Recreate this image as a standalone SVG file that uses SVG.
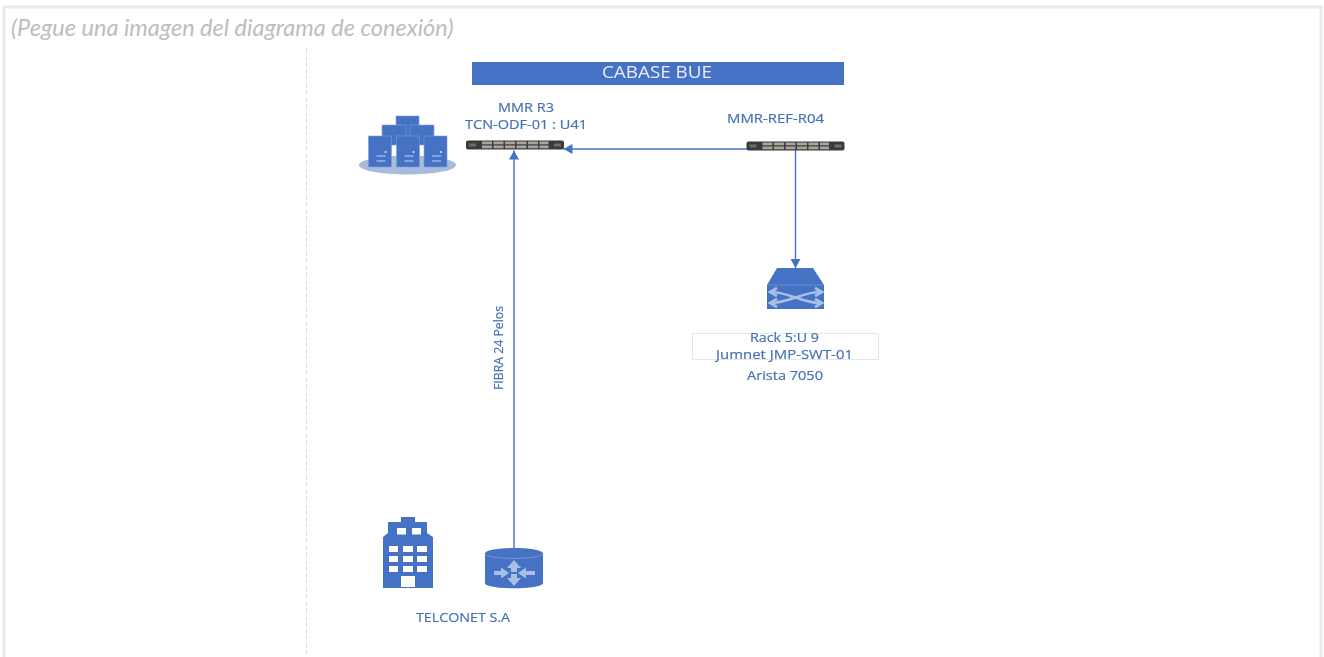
<svg xmlns="http://www.w3.org/2000/svg" width="1324" height="657" viewBox="0 0 1324 657">
<style>
.lbl{font-family:"Open Sans","Liberation Sans",sans-serif;font-size:13px;fill:#4472b4;stroke:#4472b4;stroke-width:.2;text-anchor:middle}
.blue{fill:#4472c4}
.pale{fill:#a9bfe3}
.conn{fill:none;stroke:#4472c4;stroke-width:1.4}
.panel{fill:#3a3a3a}
.port{fill:#a8a69c}
.srv{fill:#4472c4;stroke:#7f9fd6;stroke-width:.6}
.mark{stroke:#c5d3ee;stroke-width:1.2;fill:none}
.win{fill:#fff}
.arrow{fill:none;stroke:#a9bfe3;stroke-width:2.6}
.soft{filter:url(#soft)}
</style>
<defs>
<filter id="soft" x="-5%" y="-5%" width="110%" height="110%"><feGaussianBlur stdDeviation="0.4"/></filter>
<marker id="ah" markerUnits="userSpaceOnUse" markerWidth="11" markerHeight="11" refX="9" refY="5" orient="auto"><path d="M0 0L9 5L0 10Z" fill="#4472c4"/></marker>
<g id="ports">
<rect x="16" y="1" width="10" height="2.800" class="port"/><rect x="16" y="5" width="10" height="2.800" class="port"/>
<rect x="27.500" y="1" width="10" height="2.800" class="port"/><rect x="27.500" y="5" width="10" height="2.800" class="port"/>
<rect x="39" y="1" width="10" height="2.800" class="port"/><rect x="39" y="5" width="10" height="2.800" class="port"/>
<rect x="50.500" y="1" width="10" height="2.800" class="port"/><rect x="50.500" y="5" width="10" height="2.800" class="port"/>
<rect x="62" y="1" width="10" height="2.800" class="port"/><rect x="62" y="5" width="10" height="2.800" class="port"/>
<rect x="73.500" y="1" width="9" height="2.800" class="port"/><rect x="73.500" y="5" width="9" height="2.800" class="port"/>
<rect x="3" y="3" width="7" height="3" fill="#6d6d6d"/><rect x="88" y="3" width="7" height="3" fill="#6d6d6d"/>
</g>
<g id="srvfront"><rect width="23" height="31" class="srv"/><path d="M8 20h9M8 25h9" class="mark"/><circle cx="17" cy="16" r="1" fill="#dfe7f6"/></g>
</defs>
<rect width="1324" height="657" fill="#fff"/>
<path d="M4 657V7H1321V657" fill="none" stroke="#e9e9e9" stroke-width="3"/>
<path d="M306.500 48V657" fill="none" stroke="#e0e0e0" stroke-width="1" stroke-dasharray="5 2"/>
<text x="11" y="36" font-family="Lato,'Liberation Sans',sans-serif" font-style="italic" font-size="23.500" fill="#bdbdbd">(Pegue una imagen del diagrama de conexión)</text>

<g id="connectors" class="soft">
<path class="conn" d="M514 548V150.500" marker-end="url(#ah)"/>
<path class="conn" d="M750 149H563.500" marker-end="url(#ah)"/>
<path class="conn" d="M795.500 149V268" marker-end="url(#ah)"/>
</g>

<g id="cabase-bue" class="soft">
<rect x="472" y="62" width="372" height="23" class="blue"/>
<text x="657" y="77.500" font-family="'Open Sans','Liberation Sans',sans-serif" font-size="16" fill="#e8eefa" text-anchor="middle" textLength="110" lengthAdjust="spacingAndGlyphs">CABASE BUE</text>
</g>

<g id="servers" class="soft">
<ellipse cx="407.500" cy="165" rx="48.500" ry="9.500" fill="#a9bbdc"/>
<rect x="396" y="116" width="23" height="20" class="srv"/>
<rect x="382" y="125" width="24" height="20" class="srv"/>
<rect x="410" y="125" width="24" height="20" class="srv"/>
<use href="#srvfront" x="368.500" y="136"/>
<use href="#srvfront" x="396.500" y="136"/>
<use href="#srvfront" x="424" y="136"/>
</g>

<g id="mmr-r3" class="soft">
<text class="lbl" x="526" y="112" textLength="56" lengthAdjust="spacingAndGlyphs">MMR R3</text>
<text class="lbl" x="526" y="129" textLength="122" lengthAdjust="spacingAndGlyphs">TCN-ODF-01 : U41</text>
<rect x="466" y="140.500" width="98" height="9" rx="2" class="panel"/>
<use href="#ports" x="466" y="140.500"/>
</g>

<g id="mmr-ref-r04" class="soft">
<text class="lbl" x="775.500" y="123" textLength="97" lengthAdjust="spacingAndGlyphs">MMR-REF-R04</text>
<rect x="746.500" y="141.500" width="98" height="9" rx="2" class="panel"/>
<use href="#ports" x="746.500" y="141.500"/>
</g>

<g id="switch" class="soft">
<path d="M777 268H813L824 285V309H767V285Z" class="blue"/>
<path d="M767 285H824" stroke="#7f9fd6" stroke-width=".6"/>
<path d="M771 292C788 292 803 303 820 303M771 303C788 303 803 292 820 292" class="arrow"/>
<path d="M777 288L770 292L777 296M777 299L770 303L777 307M815 288L822 292L815 296M815 299L822 303L815 307" class="arrow"/>
<rect x="692.500" y="333.500" width="186" height="26" fill="none" stroke="#e6e6e6"/>
<text class="lbl" x="784.500" y="342" textLength="69" lengthAdjust="spacingAndGlyphs">Rack 5:U 9</text>
<text class="lbl" x="784.500" y="359" textLength="137" lengthAdjust="spacingAndGlyphs">Jumnet JMP-SWT-01</text>
<text class="lbl" x="785" y="380" textLength="76" lengthAdjust="spacingAndGlyphs">Arista 7050</text>
</g>

<g id="fibra-label" class="soft">
<text class="lbl" transform="translate(503 348) rotate(-90)" textLength="84" lengthAdjust="spacingAndGlyphs" style="font-size:12px">FIBRA 24 Pelos</text>
</g>

<g id="telconet" class="soft">
<path d="M383 540V537L388 533V522H401V517H415V522H427V533L433 537V588H383Z" class="blue"/>
<rect x="397" y="528" width="9" height="6.500" class="win"/><rect x="412" y="528" width="9" height="6.500" class="win"/>
<rect x="389" y="546" width="9" height="6" class="win"/><rect x="403" y="546" width="10" height="6" class="win"/><rect x="417" y="546" width="10" height="6" class="win"/>
<rect x="389" y="556" width="9" height="6" class="win"/><rect x="403" y="556" width="10" height="6" class="win"/><rect x="417" y="556" width="10" height="6" class="win"/>
<rect x="389" y="566" width="9" height="6" class="win"/><rect x="403" y="566" width="10" height="6" class="win"/><rect x="417" y="566" width="10" height="6" class="win"/>
<rect x="401" y="576" width="14" height="11" class="win"/>
<path d="M485 553.500C485 546 543 546 543 553.500V583C543 590 485 590 485 583Z" class="blue"/>
<path d="M485 553.500C485 560 543 560 543 553.500" fill="none" stroke="#7f9fd6" stroke-width=".8"/>
<path d="M514 560L521 568H517V572H511V568H507ZM514 586L507 578H511V574H517V578H521ZM509 573L501 567.500V571H494V575H501V578.500ZM518 573L526 567.500V571H535V575H526V578.500Z" class="pale"/>
<text class="lbl" x="463" y="622" textLength="94" lengthAdjust="spacingAndGlyphs">TELCONET S.A</text>
</g>
</svg>
